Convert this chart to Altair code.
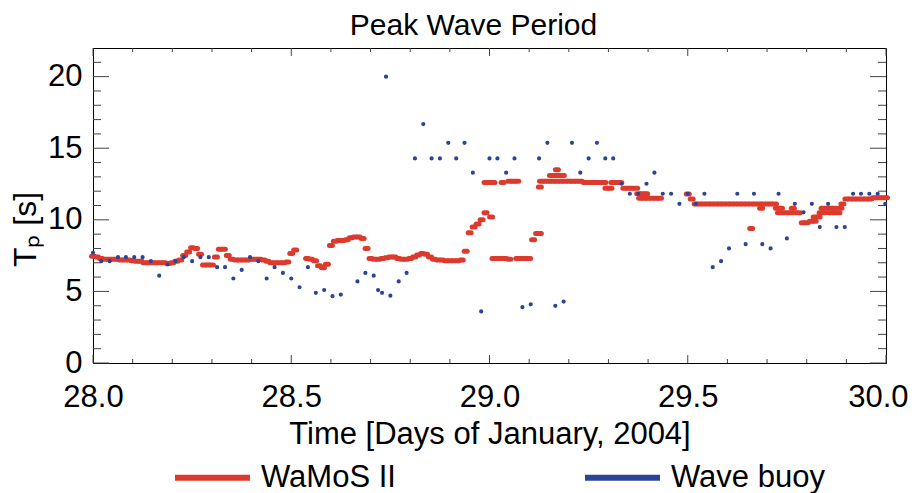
import altair as alt
import pandas as pd

FONT = "Liberation Sans"
RED = "#DD3A2E"
BLUE = "#2C4495"
TICK = "#444444"

# ---------------- data ----------------
# WaMoS II radar: time [days of January 2004], peak period Tp [s]
wamos_time = [
    28.00, 28.01, 28.02, 28.03, 28.04, 28.05, 28.06, 28.07, 28.08, 28.09,
    28.10, 28.11, 28.12, 28.13, 28.14, 28.15, 28.16, 28.17, 28.18, 28.19,
    28.20, 28.21, 28.22, 28.23, 28.24, 28.25, 28.26, 28.27, 28.28, 28.29,
    28.30, 28.31, 28.32, 28.33, 28.34, 28.35, 28.36, 28.37, 28.38, 28.39,
    28.40, 28.41, 28.42, 28.43, 28.44, 28.45, 28.46, 28.47, 28.48, 28.49,
    28.50, 28.51,
    28.54, 28.55, 28.56, 28.57, 28.58, 28.59, 28.60, 28.61, 28.62, 28.63,
    28.64, 28.65, 28.66, 28.67, 28.68, 28.69, 28.70, 28.71, 28.72, 28.73,
    28.74, 28.75, 28.76, 28.77, 28.78, 28.79, 28.80, 28.81, 28.82, 28.83,
    28.84, 28.85, 28.86, 28.87, 28.88, 28.89, 28.90, 28.91, 28.92, 28.93,
    28.94, 28.95, 28.96, 28.97, 28.98, 28.99,
    28.99, 29.00, 29.004, 29.01, 29.033, 29.05, 29.06, 29.07,
    29.01, 29.02, 29.03, 29.04, 29.05,
    29.07, 29.08, 29.09, 29.10, 29.11, 29.12, 29.127,
    29.127, 29.13, 29.14, 29.15, 29.16,
    29.155, 29.165, 29.175, 29.185, 29.17,
    29.17, 29.18, 29.19, 29.20, 29.21, 29.22, 29.23,
    29.24, 29.25, 29.26, 29.27, 29.28, 29.29,
    29.295, 29.305,
    29.31, 29.32, 29.33,
    29.34, 29.35, 29.36, 29.37,
    29.375, 29.385, 29.395,
    29.38, 29.39, 29.40, 29.41, 29.42, 29.43,
    29.50, 29.51,
    29.52, 29.53, 29.54, 29.55, 29.56, 29.57, 29.58, 29.59, 29.60, 29.61,
    29.62, 29.63, 29.64, 29.65, 29.66, 29.67, 29.68, 29.69, 29.70, 29.71, 29.72,
    29.66, 29.685,
    29.725, 29.735,
    29.73, 29.74, 29.75, 29.76, 29.77, 29.78, 29.765,
    29.79, 29.80, 29.81, 29.82, 29.82, 29.83,
    29.835, 29.845,
    29.84, 29.85, 29.86, 29.87,
    29.86, 29.87, 29.88, 29.885, 29.89,
    29.90, 29.91, 29.92, 29.93, 29.94, 29.95, 29.96, 29.97, 29.98, 29.99, 30.00,
]
wamos_tp = [
    7.45, 7.40, 7.30, 7.25, 7.25, 7.25, 7.25, 7.20, 7.20, 7.20,
    7.15, 7.10, 7.10, 7.00, 7.00, 7.00, 7.00, 7.00, 7.00, 6.95,
    7.00, 7.10, 7.20, 7.50, 7.75, 8.05, 8.00, 7.60, 6.85, 6.85,
    6.85, 7.40, 7.95, 7.95, 7.50, 7.25, 7.20, 7.20, 7.20, 7.20,
    7.25, 7.25, 7.25, 7.20, 7.10, 7.00, 7.00, 7.00, 7.00, 7.05,
    7.65, 7.90,
    7.30, 7.25, 7.15, 6.80, 6.65, 6.90, 8.20, 8.50, 8.55, 8.55,
    8.60, 8.75, 8.80, 8.80, 8.70, 8.00, 7.30, 7.25, 7.25, 7.30,
    7.35, 7.40, 7.40, 7.30, 7.25, 7.25, 7.30, 7.40, 7.55, 7.65,
    7.60, 7.40, 7.25, 7.20, 7.20, 7.15, 7.15, 7.15, 7.15, 7.20,
    7.80, 9.10, 9.50, 9.70, 10.00, 10.50,
    12.60, 12.60, 10.20, 12.60, 12.60, 12.70, 12.70, 12.70,
    7.30, 7.30, 7.30, 7.30, 7.25,
    7.30, 7.30, 7.30, 7.30, 8.60, 9.05, 9.05,
    12.30, 12.70, 12.70, 12.70, 12.70,
    13.10, 13.10, 13.10, 13.10, 13.50,
    12.70, 12.70, 12.70, 12.70, 12.70, 12.70, 12.70,
    12.60, 12.60, 12.60, 12.60, 12.60, 12.60,
    12.20, 12.20,
    12.60, 12.60, 12.60,
    12.20, 12.20, 12.20, 12.20,
    11.82, 11.82, 11.82,
    11.50, 11.50, 11.50, 11.50, 11.50, 11.50,
    11.80, 11.45,
    11.10, 11.10, 11.10, 11.10, 11.10, 11.10, 11.10, 11.10, 11.10, 11.10,
    11.10, 11.10, 11.10, 11.10, 11.10, 11.10, 11.10, 11.10, 11.10, 11.10, 11.10,
    9.40, 10.80,
    10.80, 10.80,
    10.50, 10.50, 10.50, 10.50, 10.50, 10.50, 10.80,
    9.80, 9.80, 9.90, 9.90, 10.20, 10.20,
    10.50, 10.50,
    10.80, 10.80, 10.80, 10.80,
    10.50, 10.50, 10.50, 10.80, 11.10,
    11.45, 11.45, 11.45, 11.45, 11.45, 11.45, 11.45, 11.55, 11.55, 11.55, 11.55,
]

# Wave buoy
buoy_time = [
    28.000, 28.021, 28.042, 28.063, 28.083, 28.104, 28.125, 28.146, 28.167, 28.188,
    28.208, 28.229, 28.250, 28.271, 28.292, 28.313, 28.333, 28.354, 28.375, 28.396,
    28.417, 28.438, 28.458, 28.479, 28.500, 28.521, 28.542,
    28.562, 28.583, 28.604, 28.625, 28.667, 28.687, 28.708, 28.719, 28.729, 28.739,
    28.750, 28.771, 28.791,
    28.812, 28.833, 28.854, 28.875, 28.896, 28.916, 28.937, 28.958, 28.979, 29.000,
    29.020, 29.042, 29.063, 29.083, 29.104, 29.125, 29.146, 29.166, 29.187, 29.208,
    29.229, 29.250, 29.271, 29.292, 29.312, 29.333, 29.354, 29.375, 29.396, 29.416,
    29.437, 29.458, 29.479, 29.500, 29.520, 29.542, 29.563, 29.584, 29.604, 29.625,
    29.646, 29.667, 29.688, 29.709, 29.729, 29.750, 29.770, 29.792, 29.813, 29.833,
    29.854, 29.875, 29.896, 29.917, 29.937, 29.958, 29.979, 29.998,
]
buoy_tp = [
    7.70, 7.11, 7.11, 7.39, 7.39, 7.39, 7.39, 7.11, 6.10, 6.88,
    7.11, 7.39, 7.11, 7.39, 7.39, 6.69, 6.69, 5.90, 6.50, 7.39,
    7.11, 5.90, 6.69, 6.29, 5.90, 5.29, 6.69,
    4.90, 5.10, 4.67, 4.78, 5.70, 6.29, 6.10, 5.09, 4.90, 20.00,
    4.70, 5.70, 6.29,
    14.29, 16.69, 14.29, 14.29, 15.38, 14.29, 15.38, 13.29, 3.60, 14.29,
    14.29, 13.29, 14.29, 3.90, 4.10, 14.29, 15.38, 3.99, 4.29, 15.38,
    13.29, 14.29, 15.38, 14.29, 14.29, 12.52, 11.82, 11.82, 12.52, 13.29,
    11.82, 11.82, 11.12, 11.82, 11.12, 11.82, 6.69, 7.11, 8.00, 11.82,
    8.30, 11.82, 8.30, 8.00, 11.82, 8.70, 11.12, 10.52, 11.12, 9.49,
    11.12, 9.49, 9.49, 11.82, 11.82, 11.82, 11.82, 11.12,
]

series_names = ["WaMoS II", "Wave buoy"]
x_major_ticks = [28.0, 28.5, 29.0, 29.5, 30.0]
x_minor_ticks = [28.1, 28.2, 28.3, 28.4, 28.6, 28.7, 28.8, 28.9,
                 29.1, 29.2, 29.3, 29.4, 29.6, 29.7, 29.8, 29.9]
y_major_ticks = [0, 5, 10, 15, 20]
y_minor_ticks = [1, 2, 3, 4, 6, 7, 8, 9, 11, 12, 13, 14, 16, 17, 18, 19, 21]

assert len(wamos_time) == len(wamos_tp)
assert len(buoy_time) == len(buoy_tp)

# ---------------- chart ----------------
W, H = 793, 315

wamos = pd.DataFrame({"time": wamos_time, "tp": wamos_tp, "series": series_names[0]})
buoy = pd.DataFrame({"time": buoy_time, "tp": buoy_tp, "series": series_names[1]})

xscale = alt.Scale(domain=[28, 30], nice=False, zero=False)
yscale = alt.Scale(domain=[0, 22], nice=False)
cscale = alt.Scale(domain=series_names, range=[RED, BLUE])

x_axis = alt.Axis(
    values=x_major_ticks, format=".1f", title="Time [Days of January, 2004]",
    labelFontSize=31, titleFontSize=31, ticks=False, tickSize=0, grid=False,
    labelPadding=19, labelFlush=False, labelOverlap=False,
    labelAlign={"condition": {"test": "datum.value >= 30", "value": "right"}, "value": "center"},
    labelOffset={"condition": {"test": "datum.value >= 30", "value": 22}, "value": 0},
    titleY=80, titleBaseline="alphabetic",
)
y_axis = alt.Axis(
    values=[0, 5, 10, 15, 20], title="Tₚ [s]",
    labelFontSize=31, titleFontSize=32, ticks=False, tickSize=0, grid=False,
    labelPadding=11, titleAngle=270, titleX=-58, titleY=181,
    titleAlign="center", titleBaseline="alphabetic",
)

X = alt.X("time:Q", scale=xscale, axis=x_axis)
Y = alt.Y("tp:Q", scale=yscale, axis=y_axis)

legend = alt.Legend(
    title=None, orient="none", legendX=79, legendY=389, direction="horizontal",
    columns=2, symbolType="stroke", symbolSize=5625, symbolStrokeWidth=6,
    labelFontSize=31, labelFont=FONT, labelColor="black", labelOffset=8,
    columnPadding=177, padding=0, labelLimit=400,
)
C = alt.Color("series:N", scale=cscale, legend=legend)

red_pts = alt.Chart(wamos).mark_point(
    filled=False, shape="stroke", size=9, strokeWidth=5, strokeCap="round", opacity=1
).encode(x=X, y=Y, color=C)

blue_pts = alt.Chart(buoy).mark_point(
    filled=False, size=4, strokeWidth=2.2, opacity=1, shape="circle"
).encode(x=X, y=Y, color=C)

xmin = pd.DataFrame({"time": x_minor_ticks})
xmaj = pd.DataFrame({"time": x_major_ticks})
ymin = pd.DataFrame({"tp": y_minor_ticks})
ymaj = pd.DataFrame({"tp": y_major_ticks})

def xr(df, y0, y1):
    return alt.Chart(df).mark_rule(color=TICK, strokeWidth=1).encode(
        x=X, y=alt.value(y0), y2=alt.value(y1))

def yr(df, x0, x1):
    return alt.Chart(df).mark_rule(color=TICK, strokeWidth=1).encode(
        y=Y, x=alt.value(x0), x2=alt.value(x1))

ticks = [
    xr(xmin, H, H - 4), xr(xmin, 0, 4),
    xr(xmaj, H, H - 8), xr(xmaj, 0, 8),
    yr(ymin, 0, 8), yr(ymin, W, W - 8),
    yr(ymaj, 0, 16), yr(ymaj, W, W - 16),
]

chart = alt.layer(*ticks, red_pts, blue_pts).properties(
    width=W, height=H,
    title=alt.TitleParams(
        text="Peak Wave Period", fontSize=30, font=FONT, fontWeight="normal",
        color="black", anchor="middle", frame="group", offset=7, dx=-16,
    ),
    autosize=alt.AutoSizeParams(type="none"),
    padding={"left": 85, "top": 40, "right": 22, "bottom": 130},
).configure(
    font=FONT,
).configure_view(
    stroke="black", strokeWidth=1,
).configure_axis(
    labelFont=FONT, titleFont=FONT, labelColor="black", titleColor="black",
    titleFontWeight="normal", domainColor="black", domainWidth=1,
)

chart.save("out.html", embed_options={"renderer": "svg", "actions": False})
